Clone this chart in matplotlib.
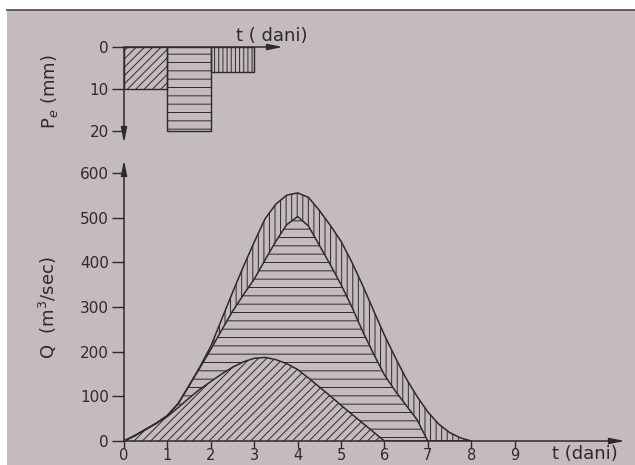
import matplotlib.pyplot as plt
from matplotlib.patches import Rectangle
from matplotlib.lines import Line2D

# effective rainfall per day (mm)
rain_days = [0, 1, 2]
rain_pe = [10, 20, 6]
rain_hatch = ['////', '--', '||||']

# hydrograph, read every quarter day (m3/sec)
days = [0, 0.25, 0.5, 0.75, 1, 1.25, 1.5, 1.75, 2, 2.25, 2.5, 2.75, 3, 3.25, 3.5, 3.75,
        4, 4.25, 4.5, 4.75, 5, 5.25, 5.5, 5.75, 6, 6.25, 6.5, 6.75, 7, 7.25, 7.5, 7.75, 8]
q_base = [0, 12, 26, 40, 55, 75, 96, 116, 133, 150, 165, 177, 185, 187, 182, 173,
          160, 141, 121, 101, 80, 60, 40, 20, 0, 0, 0, 0, 0, 0, 0, 0, 0]
q_mid = [0, 12, 26, 40, 57, 84, 124, 164, 205, 248, 290, 327, 362, 405, 447, 484,
         502, 481, 438, 395, 350, 300, 245, 195, 148, 112, 80, 48, 0, 0, 0, 0, 0]
q_top = [0, 12, 26, 40, 57, 84, 124, 166, 212, 272, 332, 390, 445, 497, 530, 550,
         555, 545, 516, 483, 447, 400, 348, 292, 237, 187, 140, 100, 65, 38, 19, 7, 0]

x_ticks = list(range(10))
y_ticks = [0, 100, 200, 300, 400, 500, 600]
pe_ticks = [0, 10, 20]

ink = '#2e2a2c'
paper = '#c3bbbe'

plt.rcParams['font.family'] = 'DejaVu Sans'
plt.rcParams['hatch.linewidth'] = 0.7

W, H = 635, 465
fig = plt.figure(figsize=(W / 100, H / 100), dpi=100)
fig.patch.set_facecolor('white')
# the photographed page
fig.add_artist(Rectangle((7 / W, 0), 1, 455 / H, transform=fig.transFigure,
                         facecolor=paper, edgecolor='none', zorder=-10))
fig.add_artist(Line2D([7 / W, 1], [455 / H, 455 / H], transform=fig.transFigure,
                      color='#4a4446', lw=1.2))

arrow = dict(arrowstyle='-|>,head_length=0.9,head_width=0.18', color=ink, lw=1.1,
             shrinkA=0, shrinkB=0)

# ---- hydrograph ----
ax = fig.add_axes([124 / W, 24 / H, 501 / W, 281 / H])
ax.set_xlim(0, 501 / 43.4)
ax.set_ylim(0, 281 / 0.447)
ax.patch.set_alpha(0)
for s in ax.spines.values():
    s.set_visible(False)

ax.fill_between(days, 0, q_base, facecolor='none', edgecolor=ink, hatch='////', lw=0)
ax.fill_between(days, q_base, q_mid, facecolor='none', edgecolor=ink, hatch='--', lw=0)
ax.fill_between(days, q_mid, q_top, facecolor='none', edgecolor=ink, hatch='|||', lw=0)
for q in (q_base, q_mid, q_top):
    ax.plot(days, q, color=ink, lw=1.1)

ax.annotate('', xy=(1, 0), xytext=(0, 0), xycoords='axes fraction', arrowprops=arrow)
ax.annotate('', xy=(0, 1), xytext=(0, 0), xycoords='axes fraction', arrowprops=arrow)

ax.set_xticks(x_ticks)
ax.set_yticks(y_ticks)
ax.tick_params(axis='x', direction='out', length=5, width=1, color=ink,
               labelsize=10.5, labelcolor=ink, pad=0)
ax.tick_params(axis='y', direction='out', length=9, width=1, color=ink,
               labelsize=11, labelcolor=ink, pad=2)

fig.text(48 / W, 1 - 308 / H, r'Q  (m$^3$/sec)', rotation=90, ha='center',
         va='center', fontsize=13, color=ink)
fig.text(585 / W, 1 - 454 / H, 't (dani)', ha='center', va='center',
         fontsize=13, color=ink)

# ---- effective rainfall ----
axp = fig.add_axes([124 / W, (H - 143) / H, 159 / W, 96 / H])
axp.set_xlim(0, 159 / 43.4)
axp.set_ylim(96 / 4.2, 0)
axp.patch.set_alpha(0)
for s in axp.spines.values():
    s.set_visible(False)

bars = axp.bar(rain_days, rain_pe, width=1, align='edge', facecolor='none',
               edgecolor=ink, lw=1)
for b, h in zip(bars, rain_hatch):
    b.set_hatch(h)

axp.annotate('', xy=(1, 1), xytext=(0, 1), xycoords='axes fraction', arrowprops=arrow)
axp.annotate('', xy=(0, 0), xytext=(0, 1), xycoords='axes fraction', arrowprops=arrow)
axp.set_xticks([])
axp.set_yticks(pe_ticks)
axp.tick_params(axis='y', direction='out', length=9, width=1, color=ink,
                labelsize=11, labelcolor=ink, pad=2)

fig.text(50 / W, 1 - 92 / H, r'P$_e$ (mm)', rotation=90, ha='center',
         va='center', fontsize=13, color=ink)
fig.text(272 / W, 1 - 36 / H, 't ( dani)', ha='center', va='center',
         fontsize=13, color=ink)

fig.savefig('out.png', dpi=100)
